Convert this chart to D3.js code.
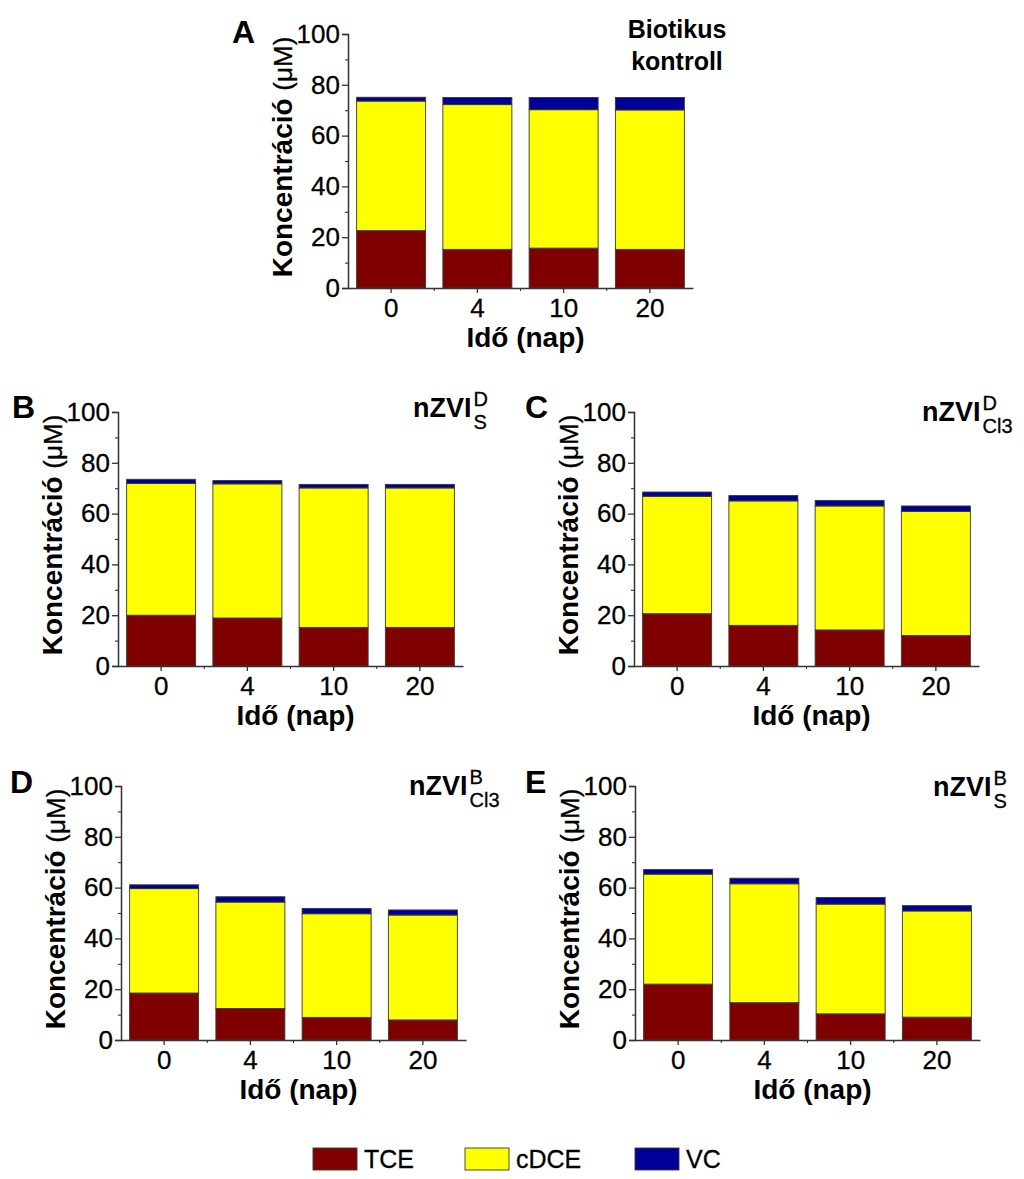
<!DOCTYPE html>
<html>
<head>
<meta charset="utf-8">
<script src="https://cdn.jsdelivr.net/npm/d3@7"></script>
<style>
  html, body { margin: 0; padding: 0; background: #fff; }
  svg { display: block; font-family: "Liberation Sans", Arial, Helvetica, sans-serif; }
</style>
</head>
<body>
<svg id="chart" width="1024" height="1179"></svg>
<script>
// ---------- DATA ----------
const days = ["0", "4", "10", "20"];
const seriesNames = ["TCE", "cDCE", "VC"];
const yTicks = [0, 20, 40, 60, 80, 100];
const yMinorTicks = [10, 30, 50, 70, 90];

// Panel A – Biotikus kontroll
const tceA  = [22.6, 15.2, 15.7, 15.2];
const cdceA = [51.0, 57.0, 54.5, 54.9];
const vcA   = [1.5, 2.8, 4.8, 4.9];
// Panel B – nZVI D S
const tceB  = [20.0, 18.9, 15.2, 15.2];
const cdceB = [51.9, 52.8, 54.9, 54.9];
const vcB   = [1.6, 1.3, 1.4, 1.4];
// Panel C – nZVI D Cl3
const tceC  = [20.6, 16.0, 14.2, 12.0];
const cdceC = [46.2, 49.0, 48.8, 48.9];
const vcC   = [1.7, 2.1, 2.2, 2.1];
// Panel D – nZVI B Cl3
const tceD  = [18.5, 12.4, 8.9, 7.9];
const cdceD = [41.1, 41.9, 40.8, 41.3];
const vcD   = [1.5, 2.1, 2.1, 2.0];
// Panel E – nZVI B S
const tceE  = [22.0, 14.7, 10.3, 9.0];
const cdceE = [43.3, 46.8, 43.2, 41.8];
const vcE   = [1.8, 2.2, 2.6, 2.1];

const yTitle = "Koncentráció";
const yUnit = "(μM)";
const xTitle = "Idő (nap)";

// ---------- STYLE / LAYOUT ----------
const colors = { TCE: "#7f0000", cDCE: "#ffff00", VC: "#000099" };
const axisColor = "#333";

const panels = [
  { id: "A", tce: tceA, cdce: cdceA, vc: vcA, x: 348, y: 34,
    letter: { dx: -116, dy: 9 },
    title: { type: "text", lines: ["Biotikus", "kontroll"], cx: 329, by: 4, lh: 32 } },
  { id: "B", tce: tceB, cdce: cdceB, vc: vcB, x: 118, y: 412,
    letter: { dx: -106, dy: 6 },
    title: { type: "nzvi", sup: "D", sub: "S", dx: 295, dy: 5 } },
  { id: "C", tce: tceC, cdce: cdceC, vc: vcC, x: 634, y: 412,
    letter: { dx: -109, dy: 6 },
    title: { type: "nzvi", sup: "D", sub: "Cl3", dx: 288, dy: 9 } },
  { id: "D", tce: tceD, cdce: cdceD, vc: vcD, x: 121, y: 786,
    letter: { dx: -111, dy: 7 },
    title: { type: "nzvi", sup: "B", sub: "Cl3", dx: 288, dy: 9 } },
  { id: "E", tce: tceE, cdce: cdceE, vc: vcE, x: 635, y: 786,
    letter: { dx: -110, dy: 7 },
    title: { type: "nzvi", sup: "B", sub: "S", dx: 298, dy: 10 } }
];

const W = 345, H = 254;
const svg = d3.select("#chart");

const x = d3.scaleBand().domain(days).range([0, W]).paddingInner(0.2).paddingOuter(0.1);
const y = d3.scaleLinear().domain([0, 100]).range([H, 0]);

const stack = d3.stack().keys(seriesNames);

panels.forEach(p => {
  const g = svg.append("g").attr("transform", `translate(${p.x},${p.y})`);
  const rows = days.map((d, i) => ({ day: d, TCE: p.tce[i], cDCE: p.cdce[i], VC: p.vc[i] }));
  const stacked = stack(rows);

  // bars
  g.selectAll("g.series").data(stacked).join("g")
    .attr("class", "series")
    .attr("fill", s => colors[s.key])
    .selectAll("rect").data(s => s).join("rect")
      .attr("x", d => x(d.data.day))
      .attr("width", x.bandwidth())
      .attr("y", d => y(d[1]))
      .attr("height", d => y(d[0]) - y(d[1]))
      .attr("stroke", "#3a3a2a")
      .attr("stroke-width", 0.9);

  // y axis
  const yAxis = g.append("g")
    .call(d3.axisLeft(y).tickValues(yTicks).tickSize(6).tickPadding(2).tickFormat(d3.format("d")));
  yAxis.select(".domain").attr("stroke", axisColor).attr("stroke-width", 1.5);
  yAxis.selectAll(".tick line").attr("stroke", axisColor).attr("stroke-width", 1.3);
  yAxis.selectAll(".tick text").attr("font-size", 26).attr("fill", "#000")
    .attr("stroke", "#000").attr("stroke-width", 0.3)
    .attr("font-family", "Liberation Sans, Arial, sans-serif");
  const yMinor = g.append("g")
    .call(d3.axisLeft(y).tickValues(yMinorTicks).tickSize(3).tickFormat(""));
  yMinor.select(".domain").remove();
  yMinor.selectAll(".tick line").attr("stroke", axisColor).attr("stroke-width", 1.1);

  // x axis
  const xAxis = g.append("g").attr("transform", `translate(0,${H})`)
    .call(d3.axisBottom(x).tickSize(5).tickPadding(6).tickSizeOuter(0));
  xAxis.select(".domain").attr("stroke", axisColor).attr("stroke-width", 1.5);
  xAxis.selectAll(".tick line").attr("stroke", axisColor).attr("stroke-width", 1.3);
  xAxis.selectAll(".tick text").attr("font-size", 26).attr("fill", "#000")
    .attr("stroke", "#000").attr("stroke-width", 0.3)
    .attr("font-family", "Liberation Sans, Arial, sans-serif");
  // minor ticks at band boundaries
  const bounds = days.slice(1).map(d => x(d) - x.step() * x.paddingInner() / 2);
  g.append("g").selectAll("line").data(bounds).join("line")
    .attr("x1", d => d).attr("x2", d => d)
    .attr("y1", H).attr("y2", H + 3)
    .attr("stroke", axisColor).attr("stroke-width", 1.1);

  // y title (rotated)
  const yt = g.append("text")
    .attr("transform", `translate(-56,${H / 2 - 4}) rotate(-90)`)
    .attr("text-anchor", "middle")
    .attr("fill", "#000");
  yt.append("tspan").attr("font-size", 28).attr("font-weight", "bold").text(yTitle + " ");
  yt.append("tspan").attr("font-size", 26).attr("stroke", "#000").attr("stroke-width", 0.3).text(yUnit);

  // x title
  g.append("text")
    .attr("x", W / 2 + 5).attr("y", H + 59)
    .attr("text-anchor", "middle")
    .attr("font-size", 28).attr("font-weight", "bold").attr("fill", "#000")
    .text(xTitle);

  // panel letter
  g.append("text")
    .attr("x", p.letter.dx).attr("y", p.letter.dy)
    .attr("font-size", 32).attr("font-weight", "bold").attr("fill", "#000")
    .text(p.id);

  // panel title
  const t = p.title;
  if (t.type === "text") {
    t.lines.forEach((ln, i) => {
      g.append("text")
        .attr("x", t.cx).attr("y", t.by + i * t.lh)
        .attr("text-anchor", "middle")
        .attr("font-size", 25).attr("font-weight", "bold").attr("fill", "#000")
        .text(ln);
    });
  } else {
    const main = g.append("text")
      .attr("x", t.dx).attr("y", t.dy)
      .attr("font-size", 27).attr("font-weight", "bold").attr("fill", "#000")
      .text("nZVI");
    const w = main.node().getComputedTextLength();
    g.append("text")
      .attr("x", t.dx + w + 2).attr("y", t.dy - 11)
      .attr("font-size", 20).attr("fill", "#000")
      .attr("stroke", "#000").attr("stroke-width", 0.3)
      .text(t.sup);
    g.append("text")
      .attr("x", t.dx + w + 2).attr("y", t.dy + 12)
      .attr("font-size", 20).attr("fill", "#000")
      .attr("stroke", "#000").attr("stroke-width", 0.3)
      .text(t.sub);
  }
});

// legend
const legendPos = d3.scaleOrdinal().domain(seriesNames).range([313, 465, 635]);
const items = svg.append("g").selectAll("g").data(seriesNames).join("g")
  .attr("transform", d => `translate(${legendPos(d)},1148)`);
items.append("rect")
  .attr("width", 44).attr("height", 22)
  .attr("fill", d => colors[d])
  .attr("stroke", "#3a3a2a").attr("stroke-width", 0.9);
items.append("text")
  .attr("x", 51).attr("y", 20)
  .attr("font-size", 25).attr("fill", "#000")
  .attr("stroke", "#000").attr("stroke-width", 0.3)
  .text(d => d);
</script>
</body>
</html>
